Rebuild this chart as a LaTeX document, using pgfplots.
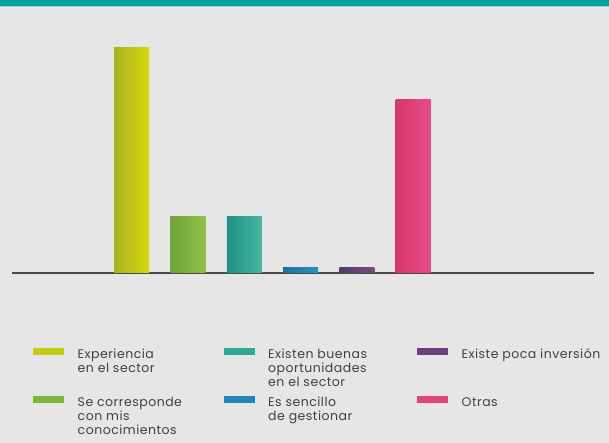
\documentclass[border=0pt]{standalone}
\usepackage{pgfplots}
\pgfplotsset{compat=1.18}
\usepackage{fontspec}
\setmainfont{Poppins}[LetterSpace=4]

\definecolor{bg}{HTML}{E6E6E6}
\definecolor{band}{HTML}{00A097}
\definecolor{cExp}{HTML}{C3CC12}
\definecolor{cCor}{HTML}{7DB63C}
\definecolor{cOpo}{HTML}{2DAA93}
\definecolor{cSen}{HTML}{1F86B5}
\definecolor{cInv}{HTML}{6A3F7D}
\definecolor{cOtr}{HTML}{E2447B}
\definecolor{axline}{HTML}{4A4A4A}
\definecolor{txt}{HTML}{404040}

% legend text: first line sets the baseline
\newcommand{\lt}[2]{\begin{tabular}[t]{@{}p{#1}@{}}#2\end{tabular}}

\begin{document}
\begin{tikzpicture}
\useasboundingbox (0,0) rectangle (609pt,443pt);
\fill[bg] (0,0) rectangle (609pt,443pt);
\fill[band] (0,437pt) rectangle (609pt,443pt);
\fill[band!40!white] (0,436pt) rectangle (609pt,437pt);
\begin{axis}[
    at={(12pt,170pt)}, anchor=south west,
    scale only axis,
    width=582pt, height=256.8pt,
    xmin=-1.124, xmax=9.21,
    ymin=0, ymax=50,
    axis x line*=bottom,
    hide y axis,
    xtick=\empty, ytick=\empty,
    axis line style={-, draw=axline, line width=1.3pt},
    clip=false,
    legend columns=3,
    legend image code/.code={\fill[#1, draw=none] (0pt,4pt) rectangle (31pt,11pt);},
    legend style={at={(rel axis cs:0.031,-0.280)}, anchor=north west,
      draw=none, fill=none, text=txt,
      font=\fontsize{12.5}{14}\selectfont,
      cells={anchor=base west},
      nodes={text depth=, inner sep=2pt},
      /tikz/every odd column/.style={column sep=11.5pt},
      /tikz/every even column/.style={column sep=10pt},
      row sep=2pt},
    every axis plot/.append style={ybar, bar width=35pt, bar shift=0pt, draw=none, forget plot},
    ]
    \addlegendimage{fill=cExp}
    \addlegendentry{\lt{134pt}{Experiencia\\en el sector}}
    \addlegendimage{fill=cOpo}
    \addlegendentry{\lt{137pt}{Existen buenas\\oportunidades\\en el sector}}
    \addlegendimage{fill=cInv}
    \addlegendentry{\lt{150pt}{Existe poca inversión}}
    \addlegendimage{fill=cCor}
    \addlegendentry{\lt{134pt}{Se corresponde\\con mis\\conocimientos}}
    \addlegendimage{fill=cSen}
    \addlegendentry{\lt{137pt}{Es sencillo\\de gestionar}}
    \addlegendimage{fill=cOtr}
    \addlegendentry{\lt{150pt}{Otras}}

    \addplot[left color={rgb,255:red,170;green,176;blue,28}, right color={rgb,255:red,212;green,220;blue,12}] coordinates {(1,44)};
    \addplot[left color={rgb,255:red,110;green,163;blue,58}, right color={rgb,255:red,143;green,193;blue,68}] coordinates {(2,11)};
    \addplot[left color={rgb,255:red,30;green,144;blue,128}, right color={rgb,255:red,72;green,184;blue,160}] coordinates {(3,11)};
    \addplot[left color={rgb,255:red,31;green,111;blue,154}, right color={rgb,255:red,36;green,150;blue,196}] coordinates {(4,1)};
    \addplot[left color={rgb,255:red,85;green,58;blue,100}, right color={rgb,255:red,122;green,78;blue,134}] coordinates {(5,1)};
    \addplot[left color={rgb,255:red,216;green,54;blue,110}, right color={rgb,255:red,232;green,76;blue,132}] coordinates {(6,33.7)};
\end{axis}
\end{tikzpicture}
\end{document}
